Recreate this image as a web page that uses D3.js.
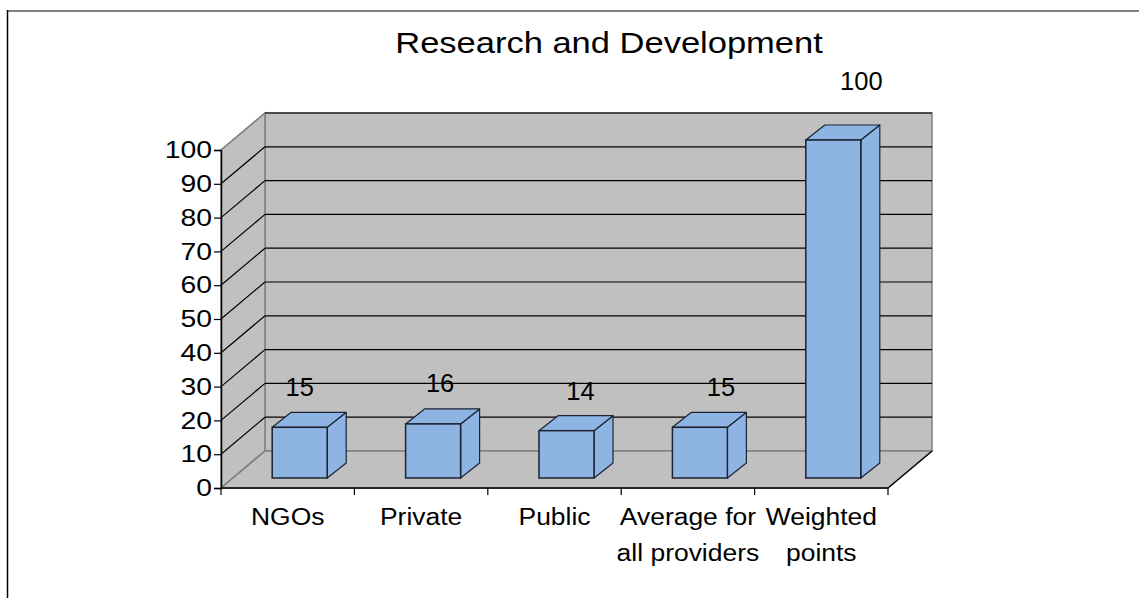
<!DOCTYPE html>
<html>
<head>
<meta charset="utf-8">
<script src="https://cdn.jsdelivr.net/npm/d3@7"></script>
<style>
  html, body { margin: 0; padding: 0; background: #fff; }
  svg { display: block; font-family: "Liberation Sans", Arial, sans-serif; }
</style>
</head>
<body>
<svg id="chart" width="1139" height="598"></svg>
<script>
// Data
const categories = ["NGOs", "Private", "Public", "Average for all providers", "Weighted points"];
const categoryLines = [["NGOs"], ["Private"], ["Public"], ["Average for", "all providers"], ["Weighted", "points"]];
const values = [15, 16, 14, 15, 100];
const yTicks = [0, 10, 20, 30, 40, 50, 60, 70, 80, 90, 100];
const title = "Research and Development";

const svg = d3.select("#chart");

// Chart frame
svg.append("line").attr("x1", 7.5).attr("y1", 11).attr("x2", 1139).attr("y2", 11)
  .attr("stroke", "#808080").attr("stroke-width", 2);
svg.append("line").attr("x1", 7.5).attr("y1", 10).attr("x2", 7.5).attr("y2", 598)
  .attr("stroke", "#000").attr("stroke-width", 1.5);

// 3D plot geometry: front plane, and the depth offset of the back wall
const frontLeft = 221, frontRight = 888;
const depth = { dx: 44, dy: -37 };

const x = d3.scaleBand().domain(categories).range([frontLeft, frontRight]).paddingInner(0).paddingOuter(0);
const yFront = d3.scaleLinear().domain([0, 100]).range([488, 150]);
const yBack = v => yFront(v) + depth.dy;

// Bars sit part-way into the depth
const barShift = { dx: 12, dy: -10 };
const barDepth = { dx: 19, dy: -15 };
const barWidth = 55;
const yBar = d3.scaleLinear().domain([0, 100]).range([yFront(0) + barShift.dy, yFront(100) + barShift.dy]);

const wallFill = "#C0C0C0", wallStroke = "#808080";
const pts = a => a.map(p => p.join(",")).join(" ");

const L = frontLeft, R = frontRight, y0 = yFront(0), y100 = yFront(100);
const bL = L + depth.dx, bR = R + depth.dx;

// Back wall
svg.append("polygon")
  .attr("points", pts([[bL, yBack(100)], [bR, yBack(100)], [bR, yBack(0)], [bL, yBack(0)]]))
  .attr("fill", wallFill).attr("stroke", wallStroke).attr("stroke-width", 1.5);
// Side wall
svg.append("polygon")
  .attr("points", pts([[L, y100], [bL, yBack(100)], [bL, yBack(0)], [L, y0]]))
  .attr("fill", wallFill).attr("stroke", wallStroke).attr("stroke-width", 1.5);
// Floor
svg.append("polygon")
  .attr("points", pts([[L, y0], [bL, yBack(0)], [bR, yBack(0)], [R, y0]]))
  .attr("fill", wallFill).attr("stroke", wallStroke).attr("stroke-width", 1.5);

// Gridlines on back wall and side wall
const grid = svg.append("g").attr("stroke", "#000").attr("stroke-width", 1.2);
yTicks.filter(t => t > 0).forEach(t => {
  grid.append("line").attr("x1", bL).attr("x2", bR).attr("y1", yBack(t)).attr("y2", yBack(t));
});
yTicks.forEach(t => {
  grid.append("line").attr("x1", L).attr("y1", yFront(t)).attr("x2", bL).attr("y2", yBack(t))
    .attr("stroke", t === 0 || t === 100 ? wallStroke : "#000");
});
// Floor right edge
svg.append("line").attr("x1", R).attr("y1", y0).attr("x2", bR).attr("y2", yBack(0))
  .attr("stroke", "#000").attr("stroke-width", 1.2);

// Bars
const barFill = "#8EB4E3", barStroke = "#1b2230";
const bars = svg.append("g").selectAll("g").data(values).join("g");
bars.each(function (v, i) {
  const g = d3.select(this);
  const xs = x(categories[i]) + barShift.dx + (x.bandwidth() - barWidth) / 2;
  const yt = yBar(v), yb = yBar(0);
  const ddx = barDepth.dx, ddy = barDepth.dy;
  g.append("polygon")
    .attr("points", pts([[xs + barWidth, yt], [xs + barWidth + ddx, yt + ddy], [xs + barWidth + ddx, yb + ddy], [xs + barWidth, yb]]))
    .attr("fill", barFill).attr("stroke", barStroke).attr("stroke-width", 1.2).attr("stroke-linejoin", "round");
  g.append("polygon")
    .attr("points", pts([[xs, yt], [xs + ddx, yt + ddy], [xs + barWidth + ddx, yt + ddy], [xs + barWidth, yt]]))
    .attr("fill", barFill).attr("stroke", barStroke).attr("stroke-width", 1.2).attr("stroke-linejoin", "round");
  g.append("rect")
    .attr("x", xs).attr("y", yt).attr("width", barWidth).attr("height", yb - yt)
    .attr("fill", barFill).attr("stroke", barStroke).attr("stroke-width", 1.5);
});

// Value labels
const labelY = d3.scaleLinear().domain([0, 100]).range([450, 90]);
svg.append("g").selectAll("text").data(values).join("text")
  .attr("x", (v, i) => x(categories[i]) + barShift.dx + x.bandwidth() / 2 + i * 7)
  .attr("y", v => labelY(v))
  .attr("text-anchor", "middle")
  .attr("font-size", 25.5)
  .attr("fill", "#000")
  .text(v => v);

// Value axis (front left edge); labels are set in a slightly wide face
const tickStretch = 1.18;
const yAxis = d3.axisLeft(yFront).tickValues(yTicks).tickSize(7).tickPadding(2);
const ya = svg.append("g").attr("transform", `translate(${L},0)`).call(yAxis);
ya.select(".domain").attr("stroke", "#000").attr("stroke-width", 1.5);
ya.selectAll(".tick line").attr("stroke", "#000").attr("stroke-width", 1.2);
ya.selectAll(".tick text")
  .attr("font-size", 24)
  .attr("font-family", "Liberation Sans, Arial, sans-serif")
  .attr("fill", "#000")
  .attr("x", -9 / tickStretch)
  .attr("transform", `scale(${tickStretch},1)`);

// Category axis (front bottom edge)
svg.append("line").attr("x1", L).attr("x2", R).attr("y1", y0).attr("y2", y0)
  .attr("stroke", "#000").attr("stroke-width", 1.5);
const tickXs = categories.map(c => x(c)).concat([R]);
svg.append("g").selectAll("line").data(tickXs).join("line")
  .attr("x1", d => d).attr("x2", d => d).attr("y1", y0).attr("y2", y0 + 7)
  .attr("stroke", "#000").attr("stroke-width", 1.2);

const catStretch = 1.08;
const catText = svg.append("g").selectAll("text").data(categoryLines).join("text")
  .attr("text-anchor", "middle")
  .attr("font-size", 24.5)
  .attr("fill", "#000")
  .attr("transform", (d, i) => `translate(${x(categories[i]) + x.bandwidth() / 2},0) scale(${catStretch},1)`);
catText.each(function (lines) {
  const t = d3.select(this);
  lines.forEach((s, j) => {
    t.append("tspan").attr("x", 0).attr("y", 525 + j * 36).text(s);
  });
});

// Title
svg.append("text")
  .attr("transform", "translate(609,53) scale(1.15,1)")
  .attr("text-anchor", "middle")
  .attr("font-size", 30)
  .attr("fill", "#000")
  .text(title);
</script>
</body>
</html>
